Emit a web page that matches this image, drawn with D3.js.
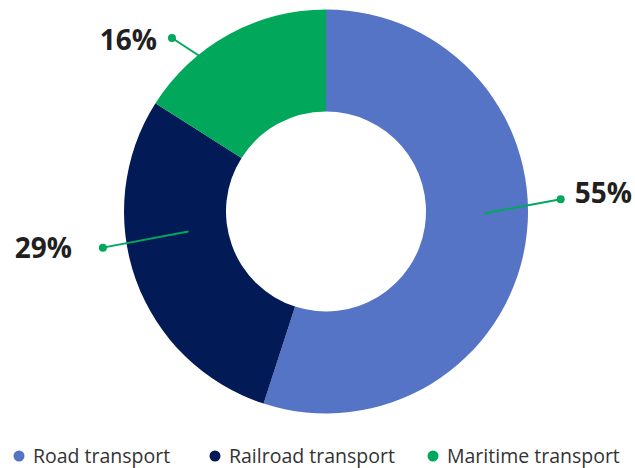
<!DOCTYPE html>
<html>
<head>
<meta charset="utf-8">
<script src="https://cdn.jsdelivr.net/npm/d3@7"></script>
<style>
  body { margin: 0; background: #fff; }
  svg { display: block; }
</style>
</head>
<body>
<div id="chart"></div>
<script>
const categories = ["Road transport", "Railroad transport", "Maritime transport"];
const shares = [55, 29, 16];
const colors = ["#5574c5", "#021a55", "#01a85c"];

const width = 635;
const height = 468;
const cx = 326;
const cy = 211.5;
const outerR = 202;
const innerR = 100;

// leader lines were placed by hand in the original, so nudge each one off the mid angle
const leader = [
  { a0: -8.3, a1: -12, r0: 158, r1: 235, dx: 14, anchor: "start", dy: -6 },
  { a0: 11.5, a1: 10.6, r0: 139, r1: 226, dx: -31, anchor: "end", dy: 0 },
  { a0: -6.5, a1: -12.8, r0: 166, r1: 232, dx: -15, anchor: "end", dy: 2 },
];

const svg = d3
  .select("#chart")
  .append("svg")
  .attr("width", width)
  .attr("height", height);

const pie = d3.pie().sort(null).value((d) => d);
const arcs = pie(shares);

const arc = d3.arc().innerRadius(innerR).outerRadius(outerR);

const g = svg.append("g").attr("transform", `translate(${cx},${cy})`);

g.selectAll("path")
  .data(arcs)
  .enter()
  .append("path")
  .attr("d", arc)
  .attr("fill", (d, i) => colors[i]);

const polar = (deg, r) => {
  const a = (deg * Math.PI) / 180;
  return [r * Math.sin(a), -r * Math.cos(a)];
};

arcs.forEach((d, i) => {
  const mid = (((d.startAngle + d.endAngle) / 2) * 180) / Math.PI;
  const p0 = polar(mid + leader[i].a0, leader[i].r0);
  const p1 = polar(mid + leader[i].a1, leader[i].r1);

  g.append("line")
    .attr("x1", p0[0])
    .attr("y1", p0[1])
    .attr("x2", p1[0])
    .attr("y2", p1[1])
    .attr("stroke", "#01a85c")
    .attr("stroke-width", 2);

  g.append("circle")
    .attr("cx", p1[0])
    .attr("cy", p1[1])
    .attr("r", 4)
    .attr("fill", "#01a85c");

  g.append("text")
    .attr("x", p1[0] + leader[i].dx)
    .attr("y", p1[1] + leader[i].dy)
    .attr("dy", "0.36em")
    .attr("text-anchor", leader[i].anchor)
    .style("font-family", "'Open Sans', sans-serif")
    .style("font-weight", 700)
    .style("font-size", "28px")
    .style("fill", "#231f20")
    .text(shares[i] + "%");
});

const legend = svg.append("g").attr("transform", "translate(0,456)");
const legendX = [19, 215, 433];

categories.forEach((c, i) => {
  const item = legend.append("g").attr("transform", `translate(${legendX[i]},0)`);
  item
    .append("circle")
    .attr("r", 5.5)
    .attr("fill", colors[i]);
  item
    .append("text")
    .attr("x", 14)
    .attr("dy", "0.36em")
    .style("font-family", "'Open Sans', sans-serif")
    .style("font-size", "19.5px")
    .style("fill", "#333")
    .text(c);
});
</script>
</body>
</html>
